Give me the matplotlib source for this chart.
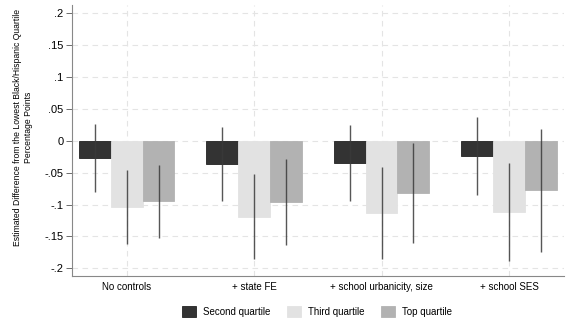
import numpy as np
import matplotlib.pyplot as plt
from matplotlib.patches import Patch
from matplotlib.ticker import FuncFormatter

plt.rcParams['font.family'] = ['Liberation Sans', 'DejaVu Sans']

groups = ['No controls', '+ state FE', '+ school urbanicity, size', '+ school SES']
series = ['Second quartile', 'Third quartile', 'Top quartile']
colors = ['#333333', '#e2e2e2', '#b2b2b2']

# point estimates and 95% CI half-widths
est = {
    'Second quartile': [-0.027, -0.037, -0.035, -0.024],
    'Third quartile': [-0.104, -0.119, -0.113, -0.112],
    'Top quartile': [-0.095, -0.096, -0.082, -0.078],
}
ci = {
    'Second quartile': [0.053, 0.058, 0.060, 0.061],
    'Third quartile': [0.058, 0.066, 0.072, 0.077],
    'Top quartile': [0.057, 0.068, 0.079, 0.096],
}

yticks = [0.2, 0.15, 0.1, 0.05, 0, -0.05, -0.1, -0.15, -0.2]

fig = plt.figure(figsize=(5.66, 3.23), dpi=100)
ax = fig.add_axes([0.127, 0.1455, 0.869, 0.839])

x = np.arange(1, len(groups) + 1)
w = 0.25
for i, s in enumerate(series):
    xs = x + (i - 1) * w
    ax.bar(xs, est[s], width=w, color=colors[i],
           edgecolor='#222222' if i == 0 else colors[i], linewidth=0.6, zorder=2)
    lo = np.array(est[s]) - np.array(ci[s])
    hi = np.array(est[s]) + np.array(ci[s])
    ax.vlines(xs, lo, hi, color='#3a3a3a', linewidth=1.0, alpha=0.85, zorder=3)

ax.set_xlim(0.57, 4.43)
ax.set_ylim(-0.212, 0.2125)
ax.set_xticks(x)
ax.set_xticklabels(groups, fontsize=7)
ax.set_yticks(yticks)

def fmt(v, pos):
    if abs(v) < 1e-9:
        return '0'
    s = ('%g' % v).replace('0.', '.')
    return s

ax.yaxis.set_major_formatter(FuncFormatter(fmt))
ax.tick_params(axis='y', labelsize=8, length=4, width=0.6, color='#555555', pad=2)
ax.tick_params(axis='x', length=0, pad=4)

ax.grid(True, linestyle=(0, (5, 4)), color='#e4e4e4', linewidth=0.8, zorder=0)
ax.set_axisbelow(True)
for side in ['top', 'right']:
    ax.spines[side].set_visible(False)
for side in ['left', 'bottom']:
    ax.spines[side].set_color('#888888')
    ax.spines[side].set_linewidth(0.8)

ax.set_ylabel('Estimated Difference from the Lowest Black/Hispanic Quartile\nPercentage Points',
              fontsize=6.2, linespacing=1.15)
ax.yaxis.set_label_coords(-0.08, 0.55)

handles = [Patch(facecolor=colors[i], edgecolor='#222222' if i == 0 else colors[i],
                 linewidth=0.6, label=s) for i, s in enumerate(series)]
fig.legend(handles=handles, loc='center', bbox_to_anchor=(0.56, 0.036), ncol=3,
           frameon=False, fontsize=7, handlelength=1.4, handleheight=1.4,
           columnspacing=1.75, handletextpad=0.7)

fig.savefig('out.png', dpi=100)
